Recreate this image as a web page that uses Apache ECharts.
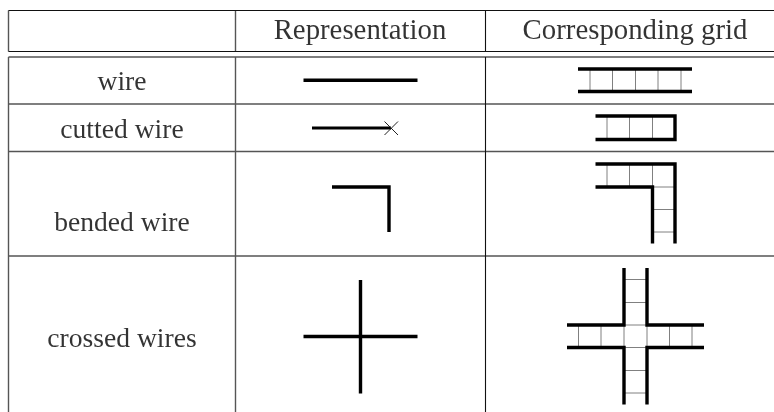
<!DOCTYPE html>
<html>
<head>
<meta charset="utf-8">
<style>
  html, body { margin: 0; padding: 0; background: #fff; }
  #main { width: 774px; height: 412px; }
</style>
<script src="https://cdn.jsdelivr.net/npm/echarts@6/dist/echarts.min.js"></script>
</head>
<body>
<div id="main"></div>
<script>
// every stroke is a list of [x, y] points
// a null point lifts the pen

const headerLabels = [
  ['Representation', 360, 31.5],
  ['Corresponding grid', 635, 31.5]
]
const rowLabels = [
  ['wire', 122, 83],
  ['cutted wire', 122, 130.5],
  ['bended wire', 122, 223.5],
  ['crossed wires', 122, 340]
]

const darkRules = [
  [8.5, 10.5], [774, 10.5], null,
  [8.5, 51.5], [774, 51.5], null,
  [485.5, 10.5], [485.5, 51.5], null,
  [485.5, 57], [485.5, 412]
]
const greyRules = [
  [8.5, 57], [774, 57], null,
  [8.5, 104], [774, 104], null,
  [8.5, 151.5], [774, 151.5], null,
  [8.5, 256], [774, 256], null,
  [8.5, 10.5], [8.5, 51.5], null,
  [8.5, 57], [8.5, 412], null,
  [235.5, 10.5], [235.5, 51.5], null,
  [235.5, 57], [235.5, 412]
]

const wirePlain = [[303.5, 80.3], [417.5, 80.3]]
const wireCut = [[312, 128], [391, 128]]
const cutMark = [[384.5, 121.5], [398, 135], null, [384.5, 135], [398, 121.5]]
const wireBent = [[332, 187], [389, 187], [389, 232]]
const wireCross = [[303.5, 336.5], [417.5, 336.5], null, [360.5, 280], [360.5, 393.5]]

const gridWalls = [
  [578, 69], [692, 69], null,
  [578, 91.5], [692, 91.5], null,
  [595.5, 116], [675, 116], [675, 139.5], [595.5, 139.5], null,
  [595.5, 164], [675, 164], [675, 243.5], null,
  [595.5, 187], [652.5, 187], [652.5, 243.5], null,
  [567, 325], [624, 325], [624, 268], null,
  [647, 268], [647, 325], [704, 325], null,
  [567, 347.5], [624, 347.5], [624, 404.5], null,
  [647, 404.5], [647, 347.5], [704, 347.5]
]
const gridRungs = [
  [590, 69], [590, 91.5], null,
  [612.5, 69], [612.5, 91.5], null,
  [635.5, 69], [635.5, 91.5], null,
  [658, 69], [658, 91.5], null,
  [681, 69], [681, 91.5], null,
  [607, 116], [607, 139.5], null,
  [629.5, 116], [629.5, 139.5], null,
  [652.5, 116], [652.5, 139.5], null,
  [607, 164], [607, 187], null,
  [629.5, 164], [629.5, 187], null,
  [652.5, 164], [652.5, 187], null,
  [652.5, 187], [675, 187], null,
  [652.5, 209.5], [675, 209.5], null,
  [652.5, 232], [675, 232], null,
  [578.5, 325], [578.5, 347.5], null,
  [601, 325], [601, 347.5], null,
  [624, 325], [624, 347.5], null,
  [647, 325], [647, 347.5], null,
  [669.5, 325], [669.5, 347.5], null,
  [692, 325], [692, 347.5], null,
  [624, 279.5], [647, 279.5], null,
  [624, 302.5], [647, 302.5], null,
  [624, 325], [647, 325], null,
  [624, 347.5], [647, 347.5], null,
  [624, 370.5], [647, 370.5], null,
  [624, 393], [647, 393]
]

function stroke(points, width, color) {
  return {
    type: 'line',
    data: points.map(p => p || ['-', '-']),
    showSymbol: false,
    silent: true,
    connectNulls: false,
    lineStyle: { width: width, color: color, cap: 'butt', join: 'miter' }
  }
}

function textSeries(rows, size) {
  return {
    type: 'scatter',
    symbolSize: 0,
    silent: true,
    data: rows.map(r => ({ name: r[0], value: [r[1], r[2]] })),
    label: {
      show: true,
      position: 'inside',
      formatter: '{b}',
      color: '#000',
      fontFamily: '"Liberation Serif"',
      fontSize: size,
      align: 'center',
      verticalAlign: 'middle'
    }
  }
}

const chart = echarts.init(document.getElementById('main'), null, { renderer: 'canvas' })
chart.setOption({
  animation: false,
  backgroundColor: '#fff',
  grid: { left: 0, right: 0, top: 0, bottom: 0 },
  xAxis: { type: 'value', min: 0, max: 774, show: false },
  yAxis: { type: 'value', min: 0, max: 412, inverse: true, show: false },
  series: [
    stroke(greyRules, 1.4, '#555'),
    stroke(darkRules, 1.1, '#111'),
    stroke(gridRungs, 1, '#808080'),
    stroke(gridWalls, 3.4, '#000'),
    stroke(wirePlain, 3.4, '#000'),
    stroke(wireCut, 3, '#000'),
    stroke(cutMark, 1, '#222'),
    stroke(wireBent, 3.4, '#000'),
    stroke(wireCross, 3.4, '#000'),
    textSeries(headerLabels, 28.8),
    textSeries(rowLabels, 27.6)
  ]
})
</script>
</body>
</html>
